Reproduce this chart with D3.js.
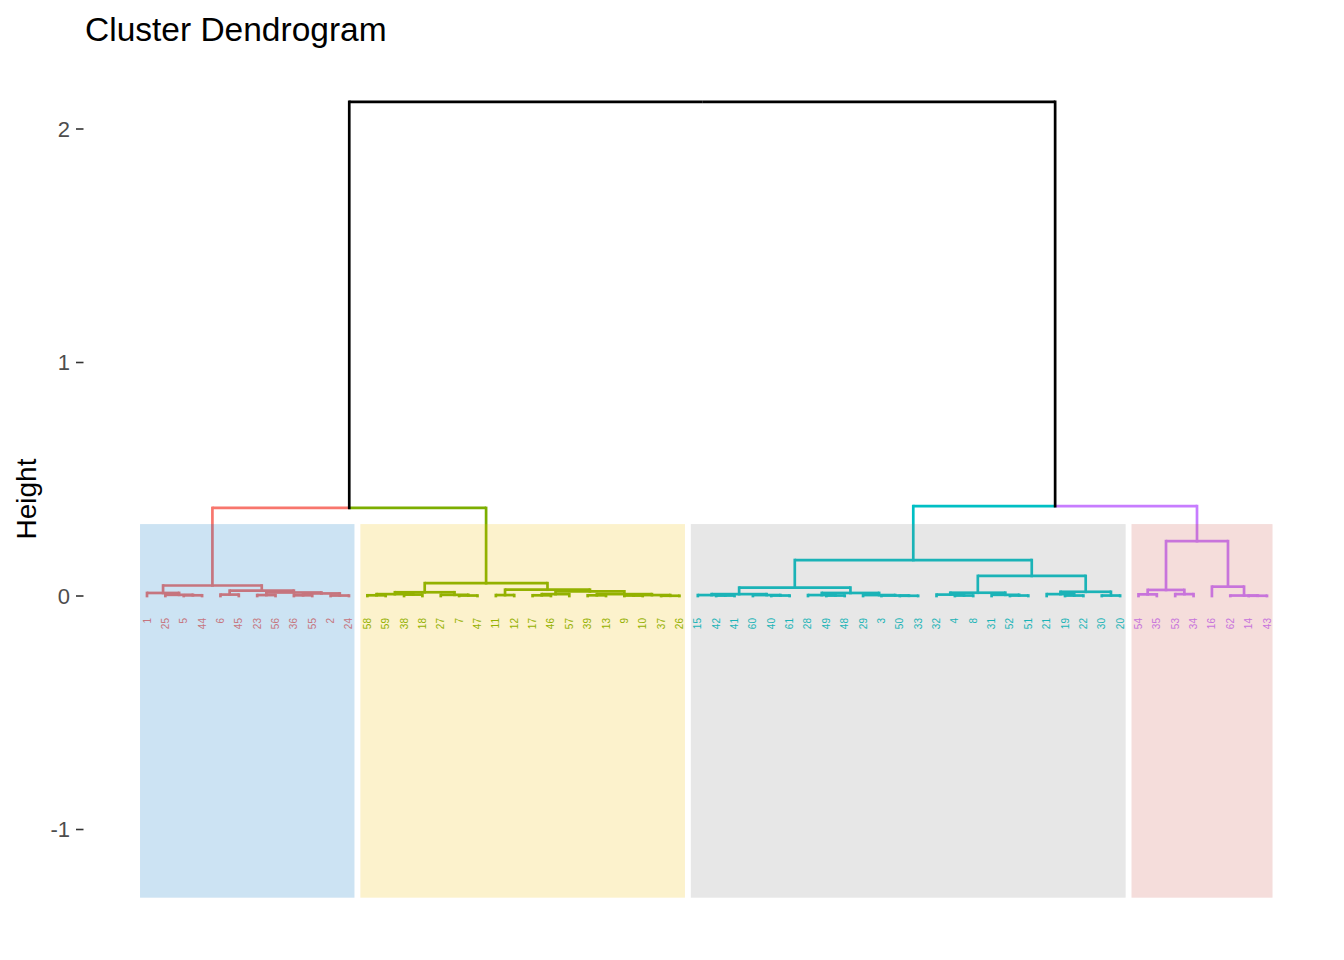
<!DOCTYPE html>
<html>
<head>
<meta charset="utf-8">
<script src="https://cdn.jsdelivr.net/npm/d3@7"></script>
<style>
  html, body { margin: 0; padding: 0; background: #ffffff; }
  svg { display: block; font-family: "Liberation Sans", Arial, sans-serif; }
</style>
</head>
<body>
<svg id="chart" width="1344" height="960"></svg>
<script>
// ---- data: each internal node is [left, right, mergeHeight]; leaves are observation labels ----
const cluster1 = [[1, [25, [5, 44, 0.003], 0.005], 0.013],
                  [[6, 45, 0.006], [[23, 56, 0.004], [[36, 55, 0.003], [2, 24, 0.002], 0.011], 0.015], 0.023],
                  0.045];
const cluster2 = [[[[58, 59, 0.003], [38, 18, 0.006], 0.008], [27, [7, 47, 0.002], 0.005], 0.016],
                  [[11, 12, 0.004],
                   [[[17, 46, 0.003], 57, 0.008], [[39, 13, 0.003], [[9, 10, 0.002], [37, 26, 0.001], 0.004], 0.008], 0.02],
                   0.027],
                  0.055];
const cluster3 = [[[[15, [42, 41, 0.002], 0.004], [60, [40, 61, 0.002], 0.004], 0.008],
                   [[28, [49, 48, 0.002], 0.004], [29, [3, [50, 33, 0.001], 0.002], 0.004], 0.013],
                   0.036],
                  [[[32, [4, 8, 0.002], 0.006], [31, [52, 51, 0.002], 0.005], 0.014],
                   [[21, [19, 22, 0.002], 0.008], [30, 20, 0.002], 0.018],
                   0.086],
                  0.154];
const cluster4 = [[[54, 35, 0.007], [53, 34, 0.008], 0.026],
                  [16, [62, [14, 43, 0.001], 0.002], 0.04],
                  0.235];
const upperHeights = [0.377, 0.385, 2.116];   // left pair, right pair, root
const clusterColors = ["#F8766D", "#7CAE00", "#00BFC4", "#C77CFF"];
const rectColors = ["#0073C2", "#EFC000", "#868686", "#CD534C"];
const rectRange = [-1.292, 0.308];            // height span of the cluster boxes
const yTicks = [-1, 0, 1, 2];
const titleText = "Cluster Dendrogram";
const yTitle = "Height";

// ---- build tree ----
const clusters = [cluster1, cluster2, cluster3, cluster4];
const tree = [[cluster1, cluster2, upperHeights[0]], [cluster3, cluster4, upperHeights[1]], upperHeights[2]];
const root = d3.hierarchy(tree, d => Array.isArray(d) ? [d[0], d[1]] : null);
const leaves = root.leaves();

const x = d3.scaleLinear().domain([1, leaves.length]).range([147, 1267]);
const y = d3.scaleLinear().domain([-1, 2]).range([829.5, 129]);

leaves.forEach((l, i) => { l.pos = i + 1; });
root.eachAfter(n => {
  n.h = n.children ? n.data[2] : 0;
  n.px = n.children ? d3.mean(n.children, c => c.px) : x(n.pos);
});
root.eachBefore(n => {
  const ci = clusters.indexOf(n.data);
  if (ci >= 0) n.cl = ci;
  else n.cl = n.parent ? n.parent.cl : -1;
});
const colorOf = n => n.cl >= 0 ? clusterColors[n.cl] : "#000000";

const svg = d3.select("#chart");

// ---- branches ----
const hs = [], vs = [];
root.each(n => {
  if (!n.parent) return;
  const p = n.parent;
  hs.push({ x1: p.px, y1: y(p.h), x2: n.px, y2: y(p.h), c: colorOf(n) });
  vs.push({ x1: n.px, y1: y(p.h), x2: n.px, y2: y(n.h), c: colorOf(n) });
});
const gb = svg.append("g");
gb.selectAll("line.h").data(hs).join("line").attr("class", "h")
  .attr("x1", d => d.x1).attr("y1", d => d.y1)
  .attr("x2", d => d.x2).attr("y2", d => d.y2)
  .attr("stroke", d => d.c).attr("stroke-width", 2.7)
  .attr("stroke-linecap", "butt");
gb.selectAll("line.v").data(vs).join("line").attr("class", "v")
  .attr("x1", d => d.x1).attr("y1", d => d.y1)
  .attr("x2", d => d.x2).attr("y2", d => d.y2)
  .attr("stroke", d => d.c).attr("stroke-width", 2.7)
  .attr("stroke-linecap", "square");

// ---- leaf labels ----
svg.append("g").selectAll("text").data(leaves).join("text")
  .attr("transform", d => `translate(${x(d.pos)},${y(0) + 22}) rotate(-90)`)
  .attr("text-anchor", "end")
  .attr("dy", "0.35em")
  .attr("font-size", 10)
  .attr("fill", d => colorOf(d))
  .text(d => d.data);

// ---- cluster rectangles (drawn on top, translucent) ----
const rects = clusters.map((c, i) => {
  const lv = root.descendants().find(n => n.data === c).leaves();
  return { i, start: lv[0].pos, end: lv[lv.length - 1].pos };
});
const step = x(2) - x(1);
svg.append("g").selectAll("rect").data(rects).join("rect")
  .attr("x", d => x(d.start) - 0.38 * step)
  .attr("width", d => x(d.end) - x(d.start) + 0.68 * step)
  .attr("y", y(rectRange[1]))
  .attr("height", y(rectRange[0]) - y(rectRange[1]))
  .attr("fill", d => rectColors[d.i])
  .attr("fill-opacity", 0.2);

// ---- y axis ----
const ax = svg.append("g");
ax.selectAll("line").data(yTicks).join("line")
  .attr("x1", 76).attr("x2", 83.5)
  .attr("y1", d => y(d)).attr("y2", d => y(d))
  .attr("stroke", "#333333").attr("stroke-width", 1.6);
ax.selectAll("text").data(yTicks).join("text")
  .attr("x", 70).attr("y", d => y(d)).attr("dy", "0.36em")
  .attr("text-anchor", "end").attr("font-size", 22).attr("fill", "#4D4D4D")
  .text(d => d);

svg.append("text")
  .attr("transform", "translate(36,499) rotate(-90)")
  .attr("text-anchor", "middle").attr("font-size", 28).attr("fill", "#000")
  .text(yTitle);

svg.append("text")
  .attr("x", 85).attr("y", 41)
  .attr("font-size", 33.5).attr("fill", "#000")
  .text(titleText);
</script>
</body>
</html>
